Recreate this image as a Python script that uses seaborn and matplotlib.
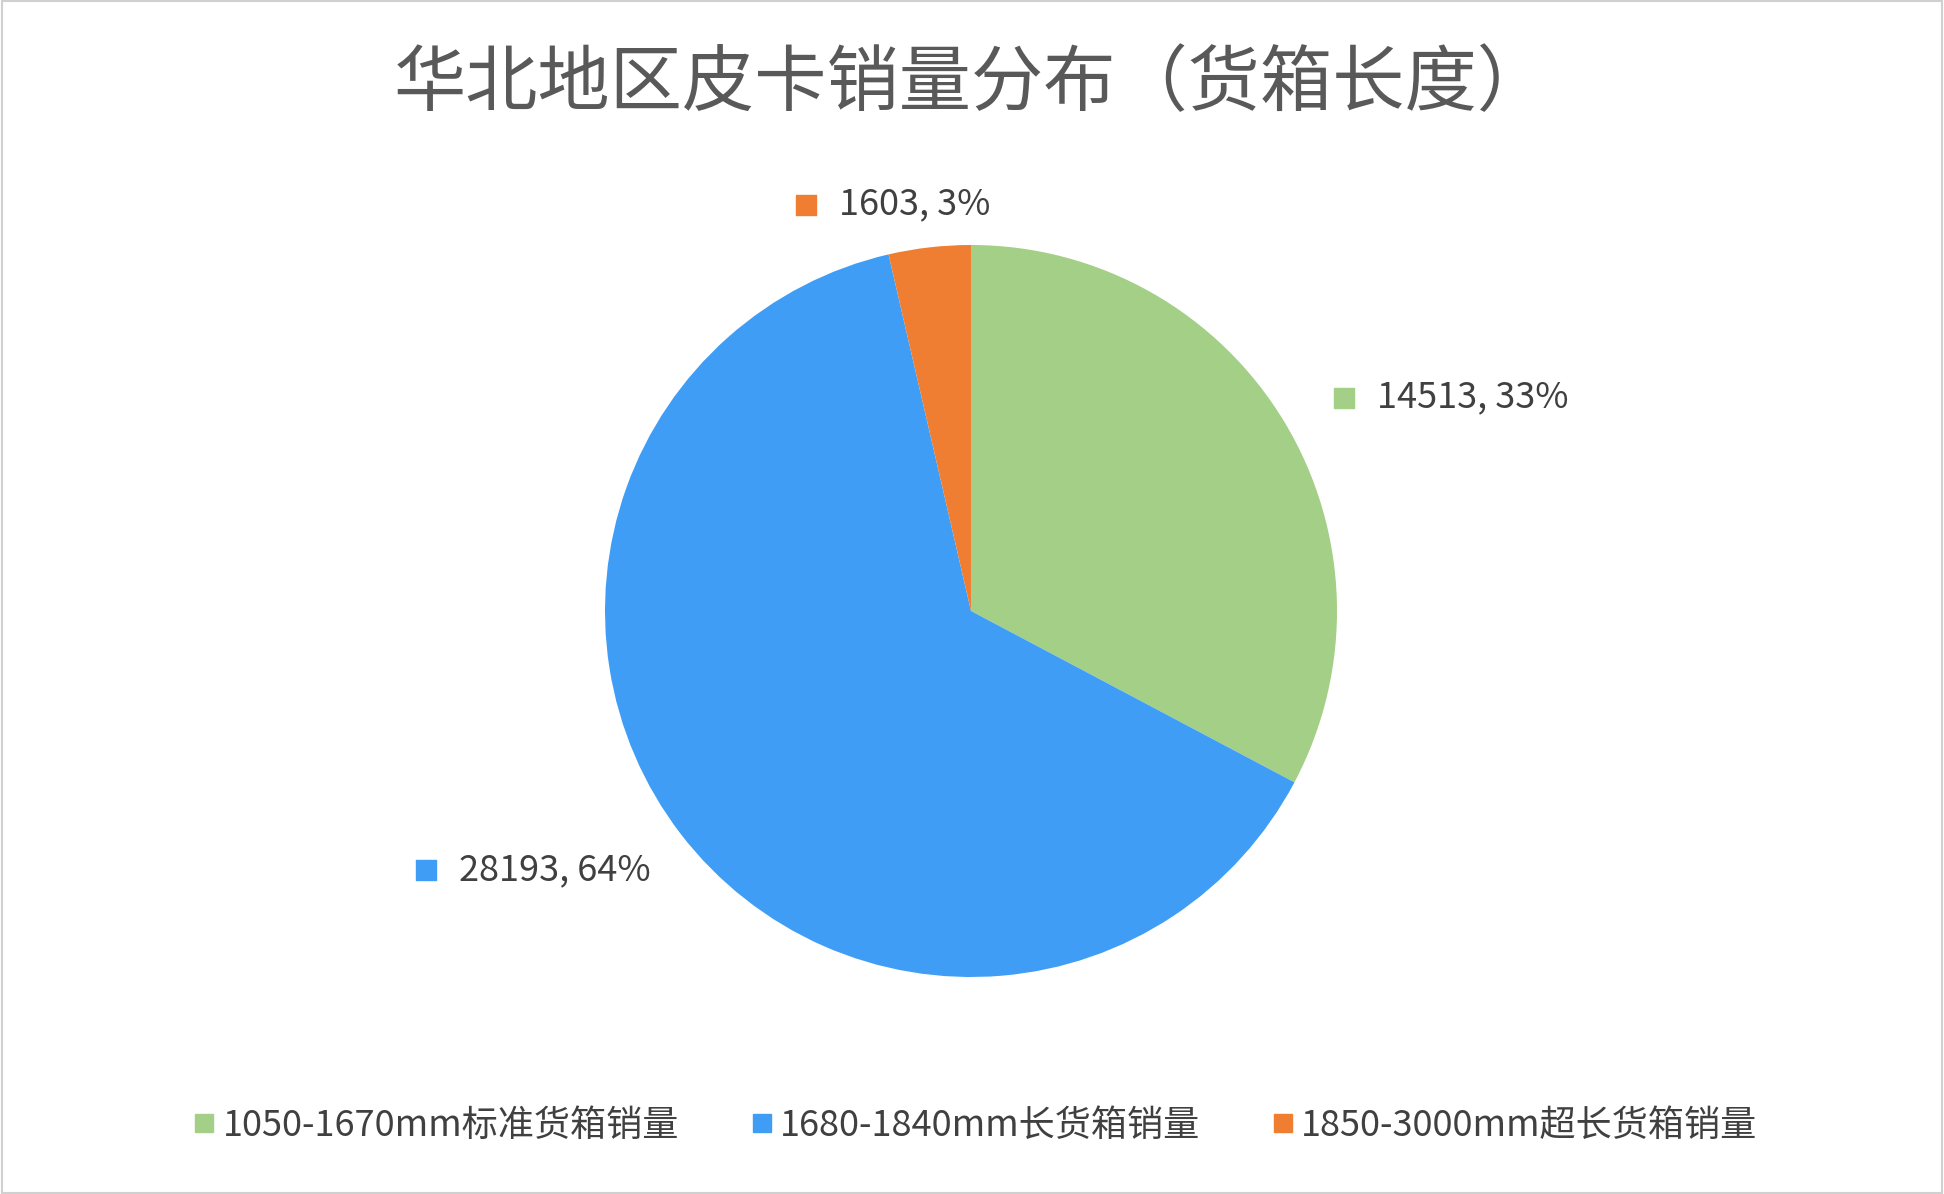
import numpy as np
import matplotlib
matplotlib.use("Agg")
import matplotlib.pyplot as plt
import seaborn as sns

categories = ["1050-1670mm标准货箱销量", "1680-1840mm长货箱销量", "1850-3000mm超长货箱销量"]
values = [14513, 28193, 1603]
percents = ["33%", "64%", "3%"]
colors = ["#a3cf86", "#3f9df5", "#ef7e33"]
# left edge of each data label, in pie-radius units from the centre
label_xy = [(1.11, 0.583), (-1.40, -0.708), (-0.36, 1.11)]

sns.set_style("white")
plt.rcParams['font.family'] = ['Noto Sans CJK SC', 'DejaVu Sans']

W, H = 1944, 1194
fig = plt.figure(figsize=(W / 100, H / 100), dpi=100)
fig.patch.set_facecolor("white")

# pie axes: center (971, 583 from bottom), radius 366 px
k = 1.5
side = 2 * 366 * k
ax = fig.add_axes([(971 - side / 2) / W, (583 - side / 2) / H, side / W, side / H])
wedges, _ = ax.pie(values, colors=colors, startangle=90, counterclock=False,
                   wedgeprops=dict(linewidth=0))
ax.set_xlim(-k, k)
ax.set_ylim(-k, k)
ax.set_aspect("equal")
ax.axis("off")

for (x, y), v, p, c in zip(label_xy, values, percents, colors):
    ax.text(x, y, f"{v}, {p}", fontsize=26, color="#404040", ha="left", va="center")
    ax.scatter([x - 0.09], [y], marker="s", s=200, color=c, clip_on=False)

fig.text(0.5, 0.929, "华北地区皮卡销量分布（货箱长度）", ha="center", va="center",
         fontsize=52, color="#595959")

handles = [plt.Line2D([], [], marker="s", linestyle="", markersize=13, color=c) for c in colors]
fig.legend(handles, categories, loc="center", bbox_to_anchor=(0.5, 0.057), ncol=3,
           frameon=False, fontsize=26, handletextpad=0.0, columnspacing=1.8,
           handlelength=1.0, labelcolor="#404040")

fig.add_artist(plt.Rectangle((0.001, 0.001), 0.998, 0.998, transform=fig.transFigure,
                             fill=False, edgecolor="#d0d0d0", linewidth=1.5))
fig.savefig("out.png", dpi=100)
